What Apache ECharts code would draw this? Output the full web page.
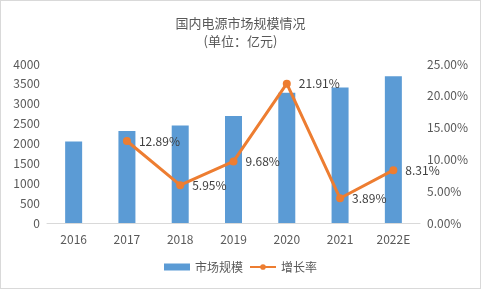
<!DOCTYPE html>
<html>
<head>
<meta charset="utf-8">
<script src="https://cdn.jsdelivr.net/npm/echarts@6/dist/echarts.min.js"></script>
<style>
  html, body { margin: 0; padding: 0; background: #fff; }
  #main { width: 481px; height: 289px; box-sizing: border-box; border: 1px solid #d9d9d9; }
</style>
</head>
<body>
<div id="main"></div>
<script>
// data
const years = ['2016', '2017', '2018', '2019', '2020', '2021', '2022E'];
const marketSize = [2050, 2314, 2452, 2689, 3278, 3406, 3689];
const growthRate = [null, 12.89, 5.95, 9.68, 21.91, 3.89, 8.31];

const chart = echarts.init(document.getElementById('main'));
const font = '"Noto Sans CJK SC", "Noto Sans", sans-serif';

let options = {
  backgroundColor: '#ffffff',
  textStyle: { fontFamily: font },
  title: {
    text: '国内电源市场规模情况\n(单位：亿元)',
    left: 'center',
    top: 8,
    textStyle: { fontSize: 13, fontWeight: 'normal', color: '#595959', lineHeight: 18, fontFamily: font }
  },
  legend: {
    bottom: 10,
    left: 'center',
    itemGap: 6,
    itemWidth: 26,
    itemHeight: 7,
    textStyle: { fontSize: 12, color: '#595959', fontFamily: font },
    data: [
      { name: '市场规模', icon: 'rect' },
      { name: '增长率' }
    ]
  },
  grid: { left: 46, right: 60, top: 63, bottom: 65 },
  xAxis: {
    type: 'category',
    data: years,
    axisLine: { lineStyle: { color: '#d9d9d9' } },
    axisTick: { show: false },
    axisLabel: { color: '#595959', fontSize: 12, margin: 10, fontFamily: font }
  },
  yAxis: [
    {
      type: 'value',
      min: 0, max: 4000, interval: 500,
      axisLine: { show: false },
      axisTick: { show: false },
      splitLine: { show: false },
      axisLabel: { color: '#595959', fontSize: 12, margin: 7, fontFamily: font, formatter: v => String(v) }
    },
    {
      type: 'value',
      min: 0, max: 25, interval: 5,
      axisLine: { show: false },
      axisTick: { show: false },
      splitLine: { show: false },
      axisLabel: {
        color: '#595959', fontSize: 12, margin: 7, fontFamily: font,
        formatter: v => v.toFixed(2) + '%'
      }
    }
  ],
  series: [
    {
      name: '市场规模',
      type: 'bar',
      data: marketSize,
      barWidth: 17,
      itemStyle: { color: '#5B9BD5' }
    },
    {
      name: '增长率',
      type: 'line',
      yAxisIndex: 1,
      data: growthRate,
      symbol: 'circle',
      symbolSize: 8,
      lineStyle: { color: '#ED7D31', width: 3 },
      itemStyle: { color: '#ED7D31' },
      label: {
        show: true,
        position: 'right',
        distance: 8,
        color: '#404040',
        fontSize: 12,
        fontFamily: font,
        formatter: p => p.value.toFixed(2) + '%'
      }
    }
  ]
};
chart.setOption(options);
</script>
</body>
</html>
